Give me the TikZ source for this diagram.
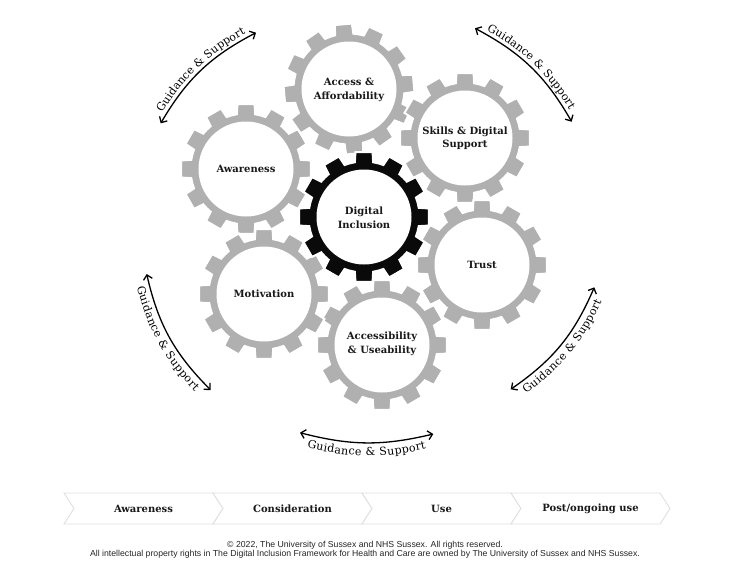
\documentclass[tikz,border=0pt]{standalone}
\usepackage{fontspec}
\setmainfont{DejaVu Serif}
\newfontfamily\footfont{Liberation Sans}
\usetikzlibrary{arrows.meta,decorations.text}
\definecolor{gearg}{HTML}{B0B0B0}
\definecolor{gearb}{HTML}{0A0A0A}
\newcommand{\gsfont}{\fontsize{11}{13}\selectfont}
\tikzset{
  gearlabel/.style={align=center, font=\bfseries\fontsize{10}{13.5}\selectfont, text=black!90, inner sep=0pt},
  gsarrow/.style={{Straight Barb[length=4.5pt,width=9pt]}-{Straight Barb[length=4.5pt,width=9pt]}, line width=1.3pt},
  stagebox/.style={fill=white, draw=black!12, line width=0.9pt},
  stagelabel/.style={font=\bfseries\fontsize{10}{12}\selectfont, inner sep=0pt, text=black!90},
  foot/.style={font=\footfont\fontsize{8.7}{10}\selectfont, inner sep=0pt, text=black!85},
}
\newcommand{\gearat}[4]{%
  \begin{scope}[shift={(#1,#2)}, rotate=#3]
    \fill[#4, draw=white, line width=2pt, even odd rule]
      (-99.5:55.5) \foreach \i in {0,...,11}{ -- ({-97.5+30*\i}:65.5) -- ({-82.5+30*\i}:65.5) -- ({-80.5+30*\i}:55.5) arc[start angle={-80.5+30*\i}, end angle={-69.5+30*\i}, radius=55.5] } -- cycle
      (0,0) circle[radius=46.5];
  \end{scope}}
\newcommand{\stage}[3]{%
  \fill[stagebox] (#1,493) -- ++(149,0) -- ++(10,15.5) -- ++(-10,15.5) -- ++(-149,0) -- ++(10,-15.5) -- cycle;
  \node[stagelabel] (#2) at (#1+79.5,508.5) {#3};}
\begin{document}
\begin{tikzpicture}[x=1pt,y=-1pt]
\useasboundingbox (0,0) rectangle (730,560);
\fill[white] (0,0) rectangle (730,560);

% gears
\gearat{246}{169}{0}{gearg}
\gearat{349}{89}{5}{gearg}
\gearat{465}{138}{0}{gearg}
\gearat{482}{265}{0}{gearg}
\gearat{382}{345}{0}{gearg}
\gearat{264}{294}{0}{gearg}
\gearat{364}{217}{0}{gearb}

\node[gearlabel] (awareness) at (246,169) {Awareness};
\node[gearlabel] (access) at (349,90) {Access \&\\Affordability};
\node[gearlabel] (skills) at (465,138) {Skills \& Digital\\Support};
\node[gearlabel] (digital) at (364,218) {Digital\\Inclusion};
\node[gearlabel] (trust) at (482,265) {Trust};
\node[gearlabel] (motivation) at (264,294) {Motivation};
\node[gearlabel] (accessibility) at (382,344) {Accessibility\\\& Useability};

% guidance & support arrows
\coordinate (tlA) at (160.7,123.3);
\coordinate (tlB) at (256,32.7);
\coordinate (trA) at (475,28.3);
\coordinate (trB) at (571.7,121.7);
\coordinate (blA) at (146.7,274);
\coordinate (blB) at (210.7,390);
\coordinate (brA) at (510.7,389.3);
\coordinate (brB) at (594.3,287.3);
\coordinate (btA) at (300,432.7);
\coordinate (btB) at (433.3,434);

\draw[gsarrow] (tlA) to[bend left=16] (tlB);
\draw[gsarrow] (trA) to[bend left=16] (trB);
\draw[gsarrow] (blA) to[bend right=16] (blB);
\draw[gsarrow] (brA) to[bend right=16] (brB);
\draw[gsarrow] (btA) to[bend right=14] (btB);

\path[decorate, decoration={text along path, text align=center, raise=4pt, text={|\gsfont|Guidance{\ \&\ }Support}}] (tlA) to[bend left=16] (tlB);
\path[decorate, decoration={text along path, text align=center, raise=4pt, text={|\gsfont|Guidance{\ \&\ }Support}}] (trA) to[bend left=16] (trB);
\path[decorate, decoration={text along path, text align=center, raise=-12.5pt, text={|\gsfont|Guidance{\ \&\ }Support}}] (blA) to[bend right=16] (blB);
\path[decorate, decoration={text along path, text align=center, raise=-12.5pt, text={|\gsfont|Guidance{\ \&\ }Support}}] (brA) to[bend right=16] (brB);
\path[decorate, decoration={text along path, text align=center, raise=-13pt, text={|\gsfont|Guidance{\ \&\ }Support}}] (btA) to[bend right=14] (btB);

% stages
\stage{64}{st1}{Awareness}
\stage{213}{st2}{Consideration}
\stage{362}{st3}{Use}
\stage{511}{st4}{Post/ongoing use}

% footer
\node[foot] (copy1) at (365,545.5) {© 2022, The University of Sussex and NHS Sussex. All rights reserved.};
\node[foot] (copy2) at (365,554.5) {All intellectual property rights in The Digital Inclusion Framework for Health and Care are owned by The University of Sussex and NHS Sussex.};
\end{tikzpicture}
\end{document}
